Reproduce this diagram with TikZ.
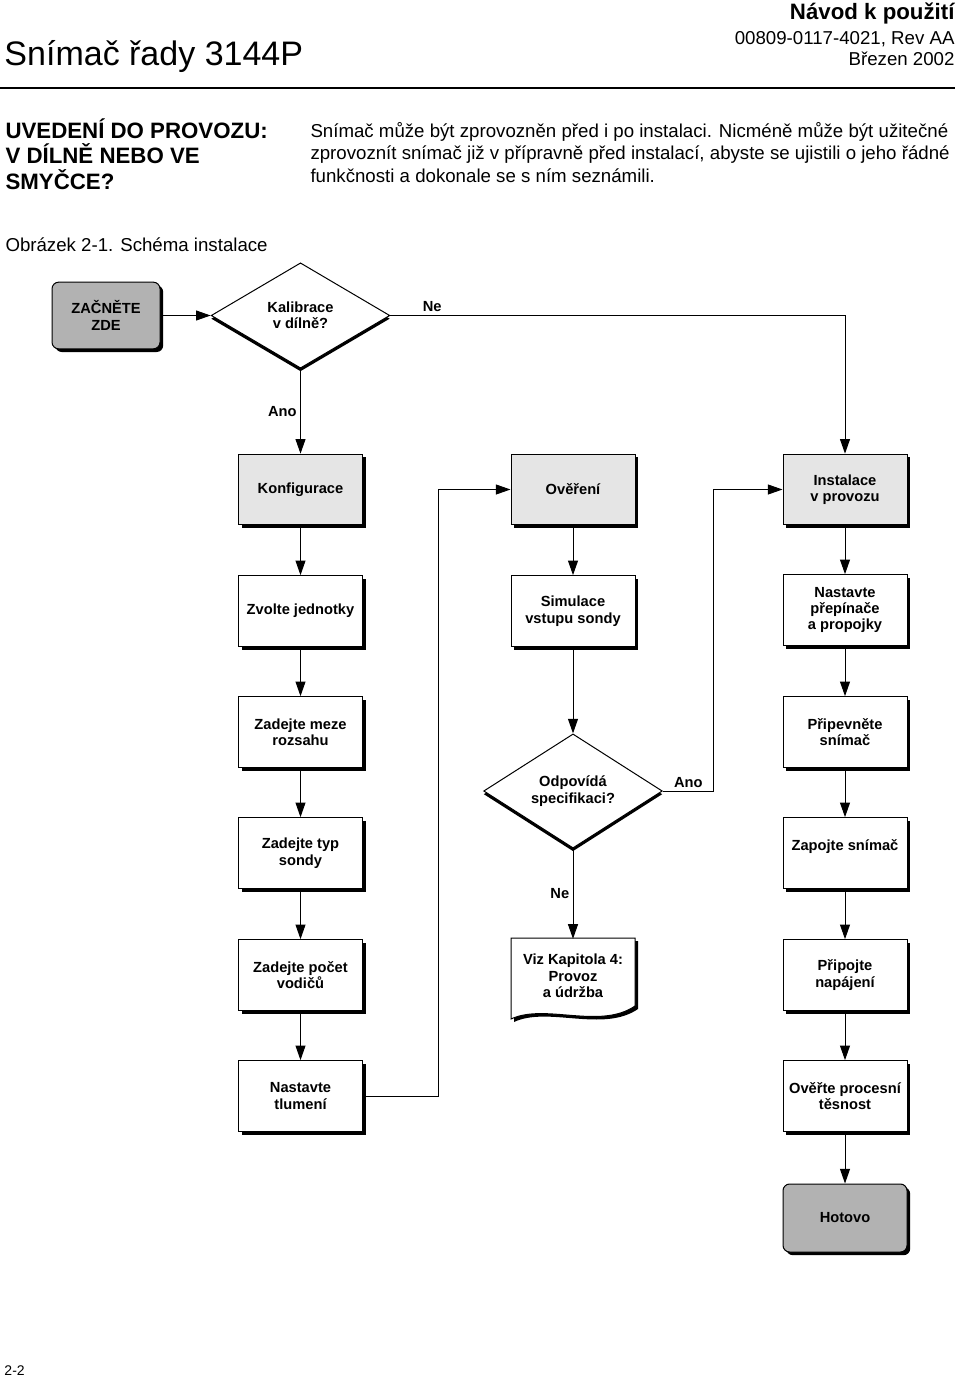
\documentclass[tikz,border=0pt]{standalone}
\usepackage{fontspec}
\setmainfont{Liberation Sans}
\usepackage{tikz}
\usetikzlibrary{arrows.meta,shapes.geometric,shadows}

\newcommand\flowfont{\bfseries\fontsize{11}{12.3}\selectfont}
\newcommand\bodyfont{\fontsize{14}{17}\selectfont}
\newcommand\headfont{\bfseries\fontsize{16.7}{19}\selectfont}

\begin{document}
\begin{tikzpicture}[x=0.75pt,y=-0.75pt,line width=0.75pt,
		txt/.style={inner sep=0pt,anchor=base west},
		arr/.style={-{Triangle[length=11pt,width=7.5pt]}},
		lbl/.style={font=\flowfont,inner sep=2.5pt},
		shadowed/.style={drop shadow={shadow xshift=2.4pt,shadow yshift=-2.4pt,fill=black,opacity=1}},
		stepbox/.style={draw,fill=white,shadowed,minimum width=93pt,minimum height=53pt,align=center,font=\flowfont,inner sep=2pt},
		headbox/.style={stepbox,fill=black!10},
		termbox/.style={stepbox,fill=black!30,rounded corners=5pt},
		decision/.style={diamond,draw,fill=white,drop shadow={shadow xshift=0pt,shadow yshift=-2.4pt,fill=black,opacity=1},minimum width=134pt,minimum height=79pt,inner sep=0pt,align=center,font=\flowfont}]
		\useasboundingbox (0,0) rectangle (960,1378);

		% page header
		\node[txt,font=\fontsize{25.5}{30}\selectfont] (title) at (4,65) {Snímač řady 3144P};
		\node[txt,anchor=base east,font=\headfont] (doctype) at (955,19) {Návod k použití};
		\node[txt,anchor=base east,font=\bodyfont] (docno) at (955,44) {00809-0117-4021, Rev AA};
		\node[txt,anchor=base east,font=\bodyfont] (docdate) at (955,65) {Březen 2002};
		\draw[line width=1pt] (0,88) -- (955,88);

		\node[txt,font=\headfont] (head1) at (5,138) {UVEDENÍ DO PROVOZU:};
		\node[txt,font=\headfont] (head2) at (5,163.5) {V DÍLNĚ NEBO VE};
		\node[txt,font=\headfont] (head3) at (5,189) {SMYČCE?};
		\node[txt,font=\bodyfont] (body1) at (310,137) {Snímač může být zprovozněn před i po instalaci. Nicméně může být užitečné};
		\node[txt,font=\bodyfont] (body2) at (310,159.5) {zprovoznít snímač již v přípravně před instalací, abyste se ujistili o jeho řádné};
		\node[txt,font=\bodyfont] (body3) at (310,182) {funkčnosti a dokonale se s ním seznámili.};
		\node[txt,font=\bodyfont] (caption) at (5,251) {Obrázek 2-1. Schéma instalace};
		\node[txt,font=\fontsize{10.5}{12}\selectfont] (pageno) at (4,1375) {2-2};

		% start and first decision
		\node[termbox,minimum width=81pt,minimum height=50pt] (start) at (106,315.5) {ZAČNĚTE\\ZDE};
		\node[decision] (kalib) at (300.5,315.5) {Kalibrace\\v dílně?};

		% configuration column
		\node[headbox] (konf) at (300.5,489.5) {Konfigurace};
		\node[stepbox] (jedn) at (300.5,611) {Zvolte jednotky};
		\node[stepbox] (rozsah) at (300.5,732) {Zadejte meze\\rozsahu};
		\node[stepbox] (typ) at (300.5,853) {Zadejte typ\\sondy};
		\node[stepbox] (vodice) at (300.5,975) {Zadejte počet\\vodičů};
		\node[stepbox] (tlum) at (300.5,1096) {Nastavte\\tlumení};

		% verification column
		\node[headbox] (over) at (573,489.5) {Ověření};
		\node[stepbox] (simul) at (573,611) {Simulace\\vstupu sondy};
		\node[decision] (spec) at (573,791) {Odpovídá\\specifikaci?};
		\fill[shift={(3,3)}] (511,938) -- (635,938) -- (635,1006) .. controls (600,1030) and (545,1003) .. (511,1019) -- cycle;
		\draw[fill=white] (511,938) -- (635,938) -- (635,1006) .. controls (600,1030) and (545,1003) .. (511,1019) -- cycle;
		\node[font=\flowfont,align=center,minimum width=93pt,minimum height=55pt] (viz) at (573,976) {Viz Kapitola 4:\\Provoz\\a údržba};

		% installation column
		\node[headbox] (instal) at (845,489.5) {Instalace\\v provozu};
		\node[stepbox] (prep) at (845,610) {Nastavte\\přepínače\\a propojky};
		\node[stepbox] (upev) at (845,732) {Připevněte\\snímač};
		\node[stepbox] (zapoj) at (845,853) {Zapojte snímač\\\mbox{}};
		\node[stepbox] (napaj) at (845,975) {Připojte\\napájení};
		\node[stepbox] (tesn) at (845,1096) {Ověřte procesní\\těsnost};
		\node[termbox,minimum height=51pt] (hotovo) at (845,1218) {Hotovo};

		% connectors
		\draw[arr] (start.east) -- (kalib.west);
		\draw[arr] (kalib.east) -| node[lbl,pos=0.046,above]{Ne} (instal.north);
		\draw[arr] (kalib.south) -- node[lbl,left]{Ano} (konf.north);
		\foreach \a/\b in {konf/jedn,jedn/rozsah,rozsah/typ,typ/vodice,vodice/tlum,over/simul,simul/spec,instal/prep,prep/upev,upev/zapoj,zapoj/napaj,napaj/tesn,tesn/hotovo}
			\draw[arr] (\a) -- (\b);
		\draw[arr] (tlum.east) -- ++(75,0) |- (over.west);
		\draw[arr] (spec.south) -- node[lbl,left]{Ne} (viz.north);
		\draw[arr] (spec.east) -- node[lbl,above]{Ano} ++(51,0) |- (instal.west);
	\end{tikzpicture}
\end{document}
